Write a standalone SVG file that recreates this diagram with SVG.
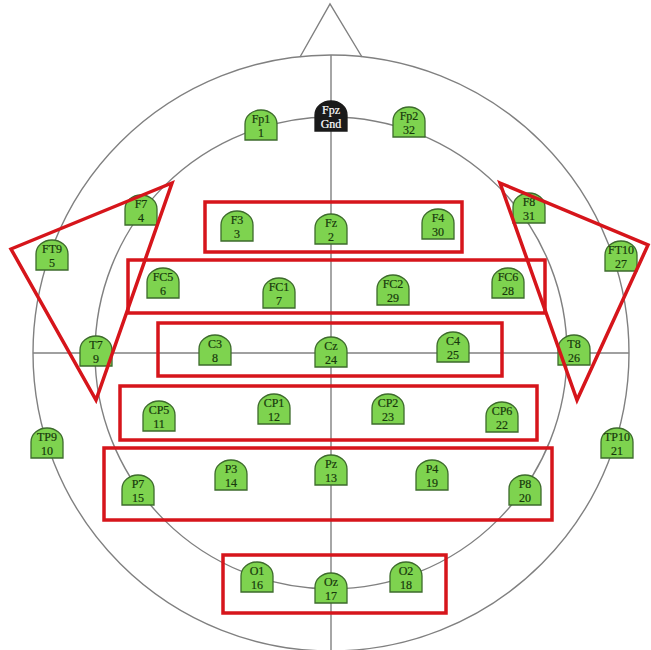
<svg xmlns="http://www.w3.org/2000/svg" width="651" height="650" viewBox="0 0 651 650">
<style>
.ln{fill:none;stroke:#808080;stroke-width:1.4}
.rd{fill:none;stroke:#d6151b;stroke-width:3.5;stroke-linejoin:miter}
.el path{fill:#7ed34f;stroke:#3d6b2c;stroke-width:1.3}
.el text{font-family:"Liberation Serif","DejaVu Serif",serif;font-size:12px;fill:#17380c;text-anchor:middle;stroke:#17380c;stroke-width:0.2}
#Fpz path{fill:#1a1a1a;stroke:#1a1a1a}
#Fpz text{fill:#ffffff;stroke:#ffffff}
</style>
<rect width="651" height="650" fill="#ffffff"/>
<g id="connectors">
<polyline class="ln" points="300,57 330,4 362,57"/>
<circle class="ln" cx="331" cy="353" r="298"/>
<circle class="ln" cx="331" cy="353" r="236"/>
<line class="ln" x1="331" y1="55" x2="331" y2="650"/>
<line class="ln" x1="33" y1="353" x2="629" y2="353"/>
</g>
<g id="electrodes">
<g class="el" id="Fp1" transform="translate(261,125)"><path d="M-16,15 V-1 A16,14 0 0 1 16,-1 V15 Z"/><text y="-2">Fp1</text><text y="12">1</text></g>
<g class="el" id="Fpz" transform="translate(331,116)"><path d="M-16,15 V-1 A16,14 0 0 1 16,-1 V15 Z"/><text y="-2">Fpz</text><text y="12">Gnd</text></g>
<g class="el" id="Fp2" transform="translate(409,122)"><path d="M-16,15 V-1 A16,14 0 0 1 16,-1 V15 Z"/><text y="-2">Fp2</text><text y="12">32</text></g>
<g class="el" id="F7" transform="translate(141,210)"><path d="M-16,15 V-1 A16,14 0 0 1 16,-1 V15 Z"/><text y="-2">F7</text><text y="12">4</text></g>
<g class="el" id="F8" transform="translate(529,208)"><path d="M-16,15 V-1 A16,14 0 0 1 16,-1 V15 Z"/><text y="-2">F8</text><text y="12">31</text></g>
<g class="el" id="FT9" transform="translate(52,255)"><path d="M-16,15 V-1 A16,14 0 0 1 16,-1 V15 Z"/><text y="-2">FT9</text><text y="12">5</text></g>
<g class="el" id="FT10" transform="translate(621,256)"><path d="M-16,15 V-1 A16,14 0 0 1 16,-1 V15 Z"/><text y="-2">FT10</text><text y="12">27</text></g>
<g class="el" id="F3" transform="translate(237,226)"><path d="M-16,15 V-1 A16,14 0 0 1 16,-1 V15 Z"/><text y="-2">F3</text><text y="12">3</text></g>
<g class="el" id="Fz" transform="translate(331,229)"><path d="M-16,15 V-1 A16,14 0 0 1 16,-1 V15 Z"/><text y="-2">Fz</text><text y="12">2</text></g>
<g class="el" id="F4" transform="translate(438,224)"><path d="M-16,15 V-1 A16,14 0 0 1 16,-1 V15 Z"/><text y="-2">F4</text><text y="12">30</text></g>
<g class="el" id="FC5" transform="translate(163,283)"><path d="M-16,15 V-1 A16,14 0 0 1 16,-1 V15 Z"/><text y="-2">FC5</text><text y="12">6</text></g>
<g class="el" id="FC1" transform="translate(279,293)"><path d="M-16,15 V-1 A16,14 0 0 1 16,-1 V15 Z"/><text y="-2">FC1</text><text y="12">7</text></g>
<g class="el" id="FC2" transform="translate(393,290)"><path d="M-16,15 V-1 A16,14 0 0 1 16,-1 V15 Z"/><text y="-2">FC2</text><text y="12">29</text></g>
<g class="el" id="FC6" transform="translate(508,283)"><path d="M-16,15 V-1 A16,14 0 0 1 16,-1 V15 Z"/><text y="-2">FC6</text><text y="12">28</text></g>
<g class="el" id="T7" transform="translate(96,351)"><path d="M-16,15 V-1 A16,14 0 0 1 16,-1 V15 Z"/><text y="-2">T7</text><text y="12">9</text></g>
<g class="el" id="C3" transform="translate(215,350)"><path d="M-16,15 V-1 A16,14 0 0 1 16,-1 V15 Z"/><text y="-2">C3</text><text y="12">8</text></g>
<g class="el" id="Cz" transform="translate(331,352)"><path d="M-16,15 V-1 A16,14 0 0 1 16,-1 V15 Z"/><text y="-2">Cz</text><text y="12">24</text></g>
<g class="el" id="C4" transform="translate(453,347)"><path d="M-16,15 V-1 A16,14 0 0 1 16,-1 V15 Z"/><text y="-2">C4</text><text y="12">25</text></g>
<g class="el" id="T8" transform="translate(574,350)"><path d="M-16,15 V-1 A16,14 0 0 1 16,-1 V15 Z"/><text y="-2">T8</text><text y="12">26</text></g>
<g class="el" id="CP5" transform="translate(159,416)"><path d="M-16,15 V-1 A16,14 0 0 1 16,-1 V15 Z"/><text y="-2">CP5</text><text y="12">11</text></g>
<g class="el" id="CP1" transform="translate(274,409)"><path d="M-16,15 V-1 A16,14 0 0 1 16,-1 V15 Z"/><text y="-2">CP1</text><text y="12">12</text></g>
<g class="el" id="CP2" transform="translate(388,409)"><path d="M-16,15 V-1 A16,14 0 0 1 16,-1 V15 Z"/><text y="-2">CP2</text><text y="12">23</text></g>
<g class="el" id="CP6" transform="translate(502,417)"><path d="M-16,15 V-1 A16,14 0 0 1 16,-1 V15 Z"/><text y="-2">CP6</text><text y="12">22</text></g>
<g class="el" id="TP9" transform="translate(47,443)"><path d="M-16,15 V-1 A16,14 0 0 1 16,-1 V15 Z"/><text y="-2">TP9</text><text y="12">10</text></g>
<g class="el" id="TP10" transform="translate(617,443)"><path d="M-16,15 V-1 A16,14 0 0 1 16,-1 V15 Z"/><text y="-2">TP10</text><text y="12">21</text></g>
<g class="el" id="P7" transform="translate(138,490)"><path d="M-16,15 V-1 A16,14 0 0 1 16,-1 V15 Z"/><text y="-2">P7</text><text y="12">15</text></g>
<g class="el" id="P3" transform="translate(231,475)"><path d="M-16,15 V-1 A16,14 0 0 1 16,-1 V15 Z"/><text y="-2">P3</text><text y="12">14</text></g>
<g class="el" id="Pz" transform="translate(331,470)"><path d="M-16,15 V-1 A16,14 0 0 1 16,-1 V15 Z"/><text y="-2">Pz</text><text y="12">13</text></g>
<g class="el" id="P4" transform="translate(432,475)"><path d="M-16,15 V-1 A16,14 0 0 1 16,-1 V15 Z"/><text y="-2">P4</text><text y="12">19</text></g>
<g class="el" id="P8" transform="translate(525,490)"><path d="M-16,15 V-1 A16,14 0 0 1 16,-1 V15 Z"/><text y="-2">P8</text><text y="12">20</text></g>
<g class="el" id="O1" transform="translate(257,577)"><path d="M-16,15 V-1 A16,14 0 0 1 16,-1 V15 Z"/><text y="-2">O1</text><text y="12">16</text></g>
<g class="el" id="Oz" transform="translate(331,588)"><path d="M-16,15 V-1 A16,14 0 0 1 16,-1 V15 Z"/><text y="-2">Oz</text><text y="12">17</text></g>
<g class="el" id="O2" transform="translate(406,577)"><path d="M-16,15 V-1 A16,14 0 0 1 16,-1 V15 Z"/><text y="-2">O2</text><text y="12">18</text></g>
</g>
<g id="groups">
<rect class="rd" x="205" y="202" width="257" height="50"/>
<rect class="rd" x="128" y="260" width="417" height="53"/>
<rect class="rd" x="158" y="323" width="344" height="53"/>
<rect class="rd" x="120" y="386" width="417" height="54"/>
<rect class="rd" x="104" y="448" width="448" height="72"/>
<rect class="rd" x="223" y="555" width="223" height="58"/>
<polygon class="rd" points="11,249 172,183 96,400"/>
<polygon class="rd" points="500,183 648,245 577,400"/>
</g>
</svg>
